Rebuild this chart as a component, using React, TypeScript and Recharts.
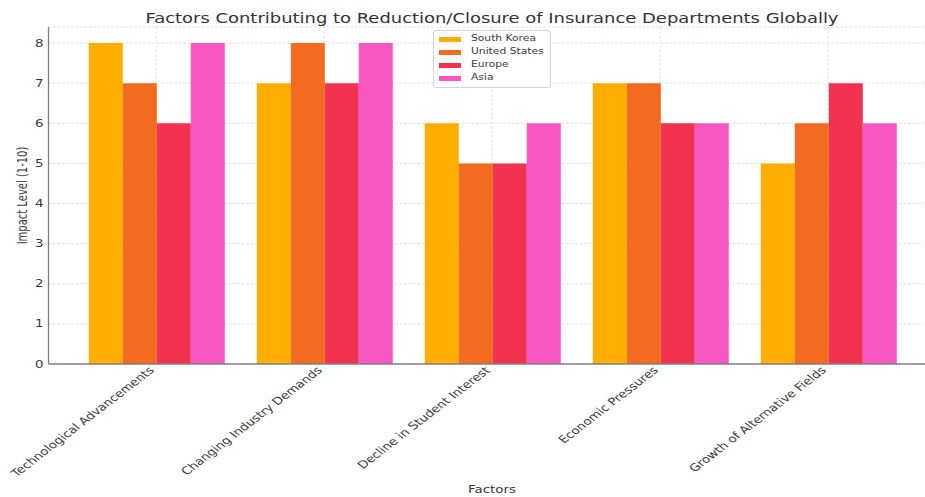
import React from 'react';
import { BarChart, Bar, XAxis, YAxis, CartesianGrid, Legend } from 'recharts';

// Impact ratings (1-10) per factor and region
const factors = [
  'Technological Advancements',
  'Changing Industry Demands',
  'Decline in Student Interest',
  'Economic Pressures',
  'Growth of Alternative Fields',
];
const southKorea = [8, 7, 6, 7, 5];
const unitedStates = [7, 8, 5, 7, 6];
const europe = [6, 7, 5, 6, 7];
const asia = [8, 8, 6, 6, 6];
const yTicks = [0, 1, 2, 3, 4, 5, 6, 7, 8];

const seriesDefs = [
  { key: 'southKorea', name: 'South Korea', values: southKorea, color: '#FFAE00' },
  { key: 'unitedStates', name: 'United States', values: unitedStates, color: '#F26B21' },
  { key: 'europe', name: 'Europe', values: europe, color: '#F13350' },
  { key: 'asia', name: 'Asia', values: asia, color: '#F857C1' },
];

const data = factors.map((factor, i) => {
  const row: Record<string, string | number> = { factor };
  seriesDefs.forEach((s) => {
    row[s.key] = s.values[i];
  });
  return row;
});

// Horizontal stretch applied to all text so glyphs share the wide aspect of the figure
const SX = 1.34;
const FONT = 'DejaVu Sans';
const TEXT = '#3a3a3a';

const XTick = (props: any) => {
  const { x, y, payload } = props;
  return (
    <g transform={`translate(${x - 1},${y - 1})`}>
      <text
        transform={`scale(1.3,1) rotate(-45)`}
        textAnchor="end"
        fontSize={10.4}
        fill={TEXT}
        fontFamily={FONT}
      >
        {payload.value}
      </text>
    </g>
  );
};

const YTick = (props: any) => {
  const { x, y, payload } = props;
  return (
    <g transform={`translate(${x + 3},${y})`}>
      <text
        transform={`scale(${SX},1)`}
        textAnchor="end"
        dy="0.36em"
        fontSize={10}
        fill={TEXT}
        fontFamily={FONT}
      >
        {payload.value}
      </text>
    </g>
  );
};

const YLabel = (props: any) => {
  const vb = props.viewBox || {};
  const cy = (vb.y ?? 0) + (vb.height ?? 0) / 2;
  return (
    <g transform={`translate(26.5,${cy})`}>
      <text
        transform={`scale(${SX},1) rotate(-90)`}
        textAnchor="middle"
        fontSize={10}
        fill={TEXT}
        fontFamily={FONT}
      >
        Impact Level (1-10)
      </text>
    </g>
  );
};

const seriesOrder = seriesDefs.map((s) => s.name);

const LegendBox = (props: any) => {
  const payload = [...(props.payload || [])].sort(
    (a: any, b: any) => seriesOrder.indexOf(a.value) - seriesOrder.indexOf(b.value)
  );
  return (
    <div
      style={{
        position: 'relative',
        width: 118,
        height: 58,
        boxSizing: 'border-box',
        border: '1px solid #d4d4d4',
        borderRadius: 3,
        background: 'rgba(255,255,255,0.85)',
      }}
    >
      {payload.map((entry: any, i: number) => (
        <div key={entry.value} style={{ position: 'absolute', left: 0, top: 8.3 + i * 13 - 6, height: 12, width: 118 }}>
          <div
            style={{
              position: 'absolute',
              left: 5,
              top: 3.3,
              width: 22,
              height: 5.5,
              background: entry.color,
            }}
          />
          <div
            style={{
              position: 'absolute',
              left: 37,
              top: 0,
              fontFamily: FONT,
              fontSize: 8,
              lineHeight: '12px',
              color: TEXT,
              whiteSpace: 'nowrap',
              transform: `scaleX(${SX})`,
              transformOrigin: 'left center',
            }}
          >
            {entry.value}
          </div>
        </div>
      ))}
    </div>
  );
};

export default function App() {
  return (
    <div
      style={{
        position: 'absolute',
        left: 0,
        top: 0,
        width: 925,
        height: 497,
        overflow: 'hidden',
        background: '#fff',
      }}
    >
      <BarChart
        width={950}
        height={497}
        data={data}
        margin={{ top: 27, right: 14.5, left: 8.5, bottom: 0 }}
        barCategoryGap="10%"
        barGap={0}
      >
        <CartesianGrid stroke="#d6d6d6" strokeDasharray="2.5 2" strokeWidth={0.8} />
        <XAxis
          dataKey="factor"
          height={133}
          interval={0}
          padding={{ left: 23.5, right: 23.5 }}
          tickLine={false}
          axisLine={{ stroke: '#808080', strokeWidth: 1.3 }}
          tick={<XTick />}
        />
        <YAxis
          width={40}
          domain={[0, 8.4]}
          ticks={yTicks}
          interval={0}
          tickLine={false}
          axisLine={{ stroke: '#808080', strokeWidth: 1.3 }}
          tick={<YTick />}
          label={<YLabel />}
        />
        <Legend
          layout="vertical"
          align="center"
          verticalAlign="middle"
          itemSorter={null as any}
          content={<LegendBox />}
          wrapperStyle={{ left: 433, top: 30, width: 118, height: 58 }}
        />
        {seriesDefs.map((s) => (
          <Bar key={s.key} dataKey={s.key} name={s.name} fill={s.color} isAnimationActive={false} />
        ))}
      </BarChart>
      <svg
        width={925}
        height={497}
        style={{ position: 'absolute', left: 0, top: 0, pointerEvents: 'none' }}
      >
        <g transform="translate(492,23)">
          <text transform={`scale(${SX},1)`} textAnchor="middle" fontSize={13.4} fill="#333" fontFamily={FONT}>
            Factors Contributing to Reduction/Closure of Insurance Departments Globally
          </text>
        </g>
        <g transform="translate(492,493)">
          <text transform={`scale(${SX},1)`} textAnchor="middle" fontSize={10} fill={TEXT} fontFamily={FONT}>
            Factors
          </text>
        </g>
      </svg>
    </div>
  );
}
